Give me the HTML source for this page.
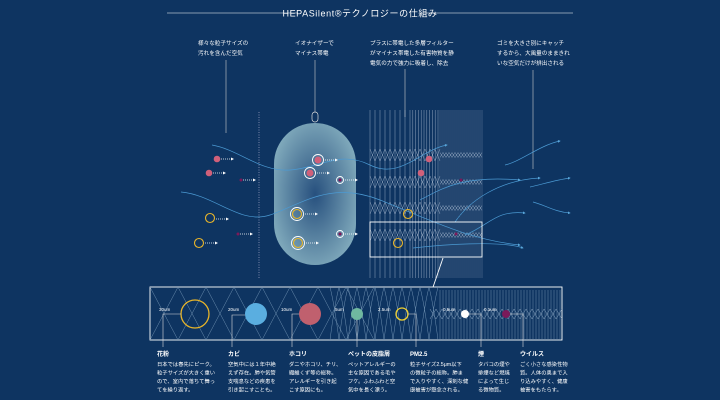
<!DOCTYPE html>
<html><head><meta charset="utf-8"><style>
html,body{margin:0;padding:0;background:#0e3461;}
svg{display:block}
text{font-family:"Liberation Sans","Noto Sans CJK JP",sans-serif;fill:#fff}
.s{font-size:5.6px}
.b{font-size:6px;font-weight:bold}
</style></head><body>
<svg id="g" width="720" height="400" viewBox="0 0 720 400" xmlns="http://www.w3.org/2000/svg">
<defs>
<radialGradient id="cap" cx="50%" cy="50%" r="60%">
<stop offset="0" stop-color="#27507e"/><stop offset="1" stop-color="#86b0c0"/>
</radialGradient>
<marker id="ar" markerWidth="4" markerHeight="4" refX="3" refY="2" orient="auto"><path d="M0,0L4,2L0,4z" fill="#5aa8dc"/></marker>
</defs>
<rect width="720" height="400" fill="#0e3461"/>
<line x1="167" y1="13" x2="298" y2="13" stroke="#fff" stroke-width="0.6"/>
<line x1="423" y1="13" x2="573" y2="13" stroke="#fff" stroke-width="0.6"/>
<text x="360" y="16.5" text-anchor="middle" style="font-size:9px;letter-spacing:0.6px">HEPASilent®テクノロジーの仕組み</text>

<text class="s" x="198" y="45">様々な粒子サイズの</text>
<text class="s" x="198" y="55">汚れを含んだ空気</text>
<line x1="226" y1="60" x2="226" y2="133" stroke="#ccc" stroke-width="0.6"/>
<text class="s" x="295" y="45">イオナイザーで</text>
<text class="s" x="295" y="55">マイナス帯電</text>
<line x1="315" y1="60" x2="315" y2="112" stroke="#ccc" stroke-width="0.6"/>
<text class="s" x="370" y="45">プラスに帯電した多層フィルター</text>
<text class="s" x="370" y="55">がマイナス帯電した有害物質を静</text>
<text class="s" x="370" y="65">電気の力で強力に吸着し、除去</text>
<line x1="405" y1="69" x2="405" y2="117" stroke="#ccc" stroke-width="0.6"/>
<text class="s" x="497" y="45">ゴミを大きさ別にキャッチ</text>
<text class="s" x="497" y="55">するから、大風量のままきれ</text>
<text class="s" x="497" y="65">いな空気だけが排出される</text>
<line x1="533" y1="70" x2="533" y2="169" stroke="#ccc" stroke-width="0.6"/>

<line x1="259" y1="112" x2="259" y2="278" stroke="#aac" stroke-width="0.7" stroke-dasharray="1,1.5"/>
<rect x="274" y="123" width="82" height="142" rx="41" fill="url(#cap)"/>
<rect x="312" y="112" width="6" height="10" rx="3" fill="none" stroke="#ddd" stroke-width="0.7"/>
<g id="filt"></g>
<g id="flow" fill="none" stroke="#4b9ad3" stroke-width="0.7" marker-end="url(#ar)">
<path d="M212,145 C240,150 260,172 290,170 S340,150 370,165 S420,150 447,145"/>
<path d="M181,192 C215,195 240,225 270,215 S330,180 380,200 S470,240 520,245"/>
<path d="M420,200 C440,190 460,175 520,180"/>
<path d="M455,222 C470,200 500,180 540,178"/>
<path d="M505,165 C520,162 540,145 560,141"/>
<path d="M530,187 C540,185 555,180 570,178"/>
<path d="M533,202 C545,205 555,212 570,213"/>
<path d="M465,235 C490,225 495,210 525,213"/>
<path d="M413,248 C440,245 500,240 523,248"/>
</g>
<g id="parts"></g>

<rect x="370" y="222" width="112" height="35" fill="none" stroke="#fff" stroke-width="0.9"/>
<line x1="443" y1="258" x2="431" y2="293" stroke="#fff" stroke-width="0.9"/>
<path d="M427,293 L431,301 L434,292z" fill="#fff"/>

<rect x="150" y="287" width="412" height="53" fill="#0e3461" stroke="#fff" stroke-width="0.9"/>
<g id="panel"></g>
<circle cx="195" cy="314" r="14" fill="none" stroke="#e8b52a" stroke-width="1.3"/>
<circle cx="256" cy="314" r="11" fill="#5aaee0"/>
<circle cx="310" cy="314" r="11" fill="#c0606e"/>
<circle cx="357" cy="314" r="6" fill="#6fb8a0"/>
<circle cx="402" cy="314" r="6" fill="none" stroke="#f0d030" stroke-width="1.3"/>
<circle cx="465" cy="314" r="4" fill="#fff"/>
<circle cx="506" cy="314" r="4" fill="#7a1a5a"/>
<g style="font-size:4.5px">
<text x="159" y="311">30um</text><text x="228" y="311">20um</text><text x="281" y="311">10um</text>
<text x="335" y="311">5um</text><text x="378" y="311">2.5um</text><text x="443" y="311">0.5um</text><text x="484" y="311">0.1um</text>
</g>
<g stroke="#ddd" stroke-width="0.6" fill="none">
<path d="M163,347 V314 H181"/><path d="M232,347 V315 H245"/><path d="M292,347 V314 H299"/>
<path d="M357,347 V320"/><path d="M416,347 V314 H408"/><path d="M481,347 V314 H469"/><path d="M523,347 V314 H510"/>
</g>
<g id="lab"></g>
</svg>
<script>
var NS="http://www.w3.org/2000/svg";
function el(p,t,a,tx){var e=document.createElementNS(NS,t);for(var k in a)e.setAttribute(k,a[k]);if(tx)e.textContent=tx;document.getElementById(p).appendChild(e);return e;}
var xs=[];for(var x=370;x<410;x+=5)xs.push(x);for(var x=410;x<440;x+=2.8)xs.push(x);for(var x=440;x<483;x+=2)xs.push(x);
xs.forEach(function(x){el("filt","line",{x1:x,y1:110,x2:x,y2:278,stroke:"#b9c8dc","stroke-width":0.5,opacity:x>=440?0.5:0.75});});
[155,182,208,235].forEach(function(y){for(var x=370;x<440;x+=5){el("filt","path",{d:"M"+x+","+(y-6)+"L"+(x+5)+","+(y+6)+"M"+(x+5)+","+(y-6)+"L"+x+","+(y+6),stroke:"#b9c8dc","stroke-width":0.5,fill:"none",opacity:0.7});}
for(var x=440;x<482;x+=3){el("filt","path",{d:"M"+x+","+(y-2.5)+"L"+(x+3)+","+(y+2.5)+"M"+(x+3)+","+(y-2.5)+"L"+x+","+(y+2.5),stroke:"#b9c8dc","stroke-width":0.5,fill:"none",opacity:0.7});}});
for(var x=150;x<350;x+=28){el("panel","path",{d:"M"+x+",287L"+(x+28)+",340M"+(x+28)+",287L"+x+",340",stroke:"#6d8fb0","stroke-width":0.5,fill:"none"});}
for(var x=330;x<430;x+=9){el("panel","path",{d:"M"+x+",340Q"+(x+4.5)+",305 "+(x+9)+",287",stroke:"#6d8fb0","stroke-width":0.5,fill:"none"});el("panel","path",{d:"M"+(x+9)+",340Q"+(x+4.5)+",305 "+x+",287",stroke:"#6d8fb0","stroke-width":0.5,fill:"none"});}
for(var x=440;x<562;x+=3){el("panel","line",{x1:x,y1:290,x2:x,y2:340,stroke:"#6d8fb0","stroke-width":0.5});}
for(var x=430;x<562;x+=6){el("panel","path",{d:"M"+x+",309L"+(x+6)+",319M"+(x+6)+",309L"+x+",319",stroke:"#8aa4c0","stroke-width":0.5,fill:"none"});}
function dots(x,y){el("parts","line",{x1:x,y1:y,x2:x+10,y2:y,stroke:"#fff","stroke-width":0.8,"stroke-dasharray":"1,1"});el("parts","path",{d:"M"+(x+10)+","+(y-1.5)+"L"+(x+13)+","+y+"L"+(x+10)+","+(y+1.5)+"z",fill:"#fff"});}
function c(x,y,r,f,s,sw){el("parts","circle",{cx:x,cy:y,r:r,fill:f||"none",stroke:s||"none","stroke-width":sw||1});}
c(217,159,3.3,"#d0607a");dots(221,159);c(209,173,3.3,"#d0607a");dots(213,173);c(241,180,1.5,"#7a1a5a");dots(243,180);
c(210,218,4.5,null,"#e8b52a",1.1);dots(216,219);c(199,243,4.5,null,"#e8b52a",1.1);dots(205,243);c(238,234,1.5,"#7a1a5a");dots(240,234);
c(318,160,5.5,null,"#fff",0.9);c(318,160,3.5,"#d0607a");dots(325,160);c(310,173,5.5,null,"#fff",0.9);c(310,173,3.5,"#d0607a");dots(317,173);
c(340,180,3.5,null,"#fff",0.9);c(340,180,1.6,"#7a1a5a");dots(345,180);
c(297,214,6.5,null,"#fff",0.9);c(297,214,4.5,null,"#e8b52a",1.1);dots(305,214);c(298,243,6.5,null,"#fff",0.9);c(298,243,4.5,null,"#e8b52a",1.1);dots(306,243);
c(340,234,3.5,null,"#fff",0.9);c(340,234,1.6,"#7a1a5a");dots(345,234);
c(429,159,3.3,"#d0607a");c(421,173,3.3,"#d0607a");c(461,180,1.5,"#7a1a5a");c(408,214,4.5,null,"#e8b52a",1.1);c(398,243,4.5,null,"#e8b52a",1.1);c(456,234,1.5,"#7a1a5a");
var L=[[157,"花粉",["日本では春先にピーク。","粒子サイズが大きく重い","ので、室内で落ちて舞っ","てを繰り返す。"]],
[228,"カビ",["空気中には１年中絶","えず存在。肺や気管","支喘息などの疾患を","引き起こすことも。"]],
[289,"ホコリ",["ダニやホコリ、チリ、","繊維くず等の総称。","アレルギーを引き起","こす原因にも。"]],
[348,"ペットの皮脂屑",["ペットアレルギーの","主な原因である毛や","フケ。ふわふわと空","気中を長く漂う。"]],
[410,"PM2.5",["粒子サイズ2.5μm以下","の微粒子の総称。肺ま","で入りやすく、深刻な健","康被害が懸念される。"]],
[478,"煙",["タバコの煙や","排煙など燃焼","によって生じ","る微物質。"]],
[520,"ウイルス",["ごく小さな感染性物","質。人体の奥まで入","り込みやすく、健康","被害をもたらす。"]]];
L.forEach(function(l){el("lab","text",{x:l[0],y:356,"class":"b"},l[1]);l[2].forEach(function(t,i){el("lab","text",{x:l[0],y:366+i*8.5,"class":"s",style:"font-size:5.3px"},t);});});
</script>
</body></html>
